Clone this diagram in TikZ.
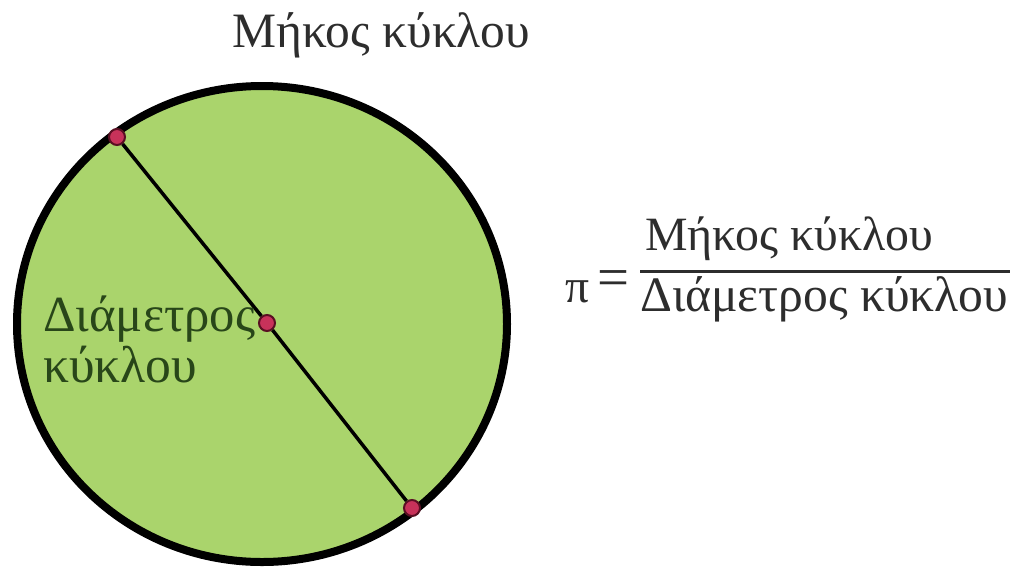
\documentclass[tikz,border=0pt]{standalone}
\usepackage{fontspec}
\setmainfont{Liberation Serif}
\definecolor{circfill}{RGB}{170,212,108}
\definecolor{dotfill}{RGB}{200,50,90}
\definecolor{dotline}{RGB}{90,15,35}
\definecolor{labelgreen}{RGB}{40,70,25}
\definecolor{textgrey}{RGB}{45,45,45}
\begin{document}
\begin{tikzpicture}[x=1pt,y=-1pt,
  txt/.style={inner sep=0pt, anchor=base west, text=textgrey, font=\fontsize{46}{52}\selectfont},
  dotmark/.style={circle, fill=dotfill, draw=dotline, line width=2pt, minimum size=16pt, inner sep=0pt}]
\useasboundingbox (0,0) rectangle (1013,566);
\fill[white] (0,0) rectangle (1013,566);
\draw[fill=circfill, line width=8pt] (262,324) ellipse [x radius=245, y radius=238];
\node[dotmark] (p1) at (117,137) {};
\node[dotmark] (c) at (267,323) {};
\node[dotmark] (p2) at (412,508) {};
\draw[line width=3.5pt] (p1) -- (c);
\draw[line width=3.5pt] (c) -- (p2);
\node[txt] (title) at (232,47) {\resizebox{298pt}{!}{Μήκος κύκλου}};
\node[txt, text=labelgreen] (lab1) at (43,331) {\resizebox{212pt}{!}{Διάμετρος}};
\node[txt, text=labelgreen] (lab2) at (43,382) {\resizebox{154pt}{!}{κύκλου}};
\node[txt] (num) at (645,250) {\resizebox{288pt}{!}{Μήκος κύκλου}};
\coordinate (barL) at (640,271);
\coordinate (barR) at (1010,271);
\draw[line width=3pt, textgrey] (barL) -- (barR);
\node[txt] (den) at (640,311) {\resizebox{368pt}{!}{Διάμετρος κύκλου}};
\node[txt] (pi) at (565,302) {\resizebox{24pt}{!}{π}};
\node[txt] (eq) at (597,296) {\resizebox{32pt}{!}{=}};
\end{tikzpicture}
\end{document}
